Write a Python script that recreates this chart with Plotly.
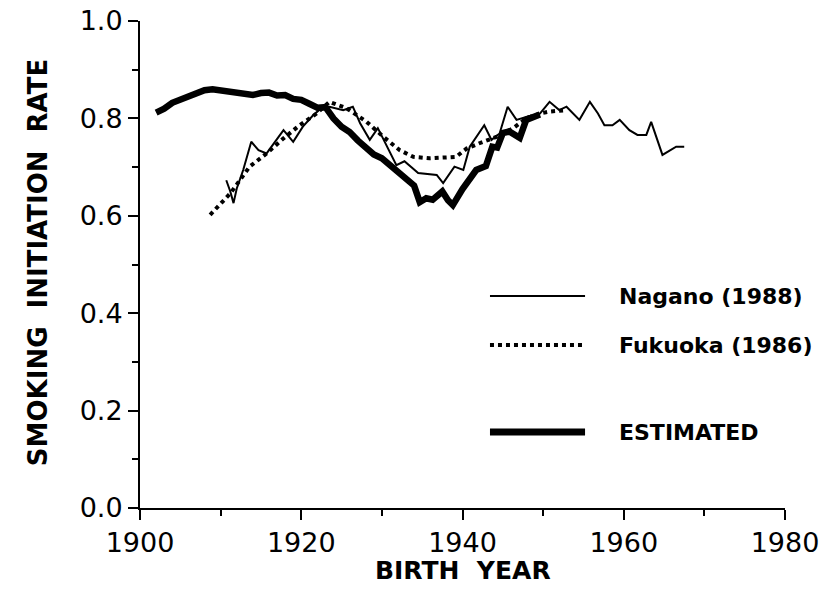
import plotly.graph_objects as go

# ---- data ----
est_year = [1902, 1903, 1904, 1905, 1906, 1907, 1908, 1909, 1910, 1911, 1912, 1913, 1914,
            1915, 1916, 1917, 1918, 1919, 1920, 1921, 1922, 1923, 1924, 1925, 1926, 1927,
            1928, 1929, 1930, 1931, 1932, 1933, 1934, 1934.7, 1935.5, 1936.3, 1937.5, 1938.2,
            1938.8, 1940, 1941, 1941.7, 1942.9, 1943.7, 1944.3, 1945, 1945.8, 1946.5, 1947.1,
            1947.9, 1948.8, 1949.6]
est_rate = [0.812, 0.82, 0.832, 0.838, 0.845, 0.85, 0.858, 0.86, 0.857, 0.855, 0.852, 0.848, 0.848,
            0.852, 0.853, 0.847, 0.848, 0.84, 0.838, 0.83, 0.822, 0.823, 0.80, 0.783, 0.772, 0.755,
            0.742, 0.726, 0.718, 0.703, 0.692, 0.676, 0.662, 0.628, 0.636, 0.633, 0.65, 0.632,
            0.622, 0.655, 0.68, 0.694, 0.702, 0.742, 0.74, 0.77, 0.773, 0.765, 0.76,
            0.797, 0.802, 0.808]

nagano_year = [1910.7, 1911.2, 1911.6, 1912.0, 1912.8, 1913.8, 1914.7, 1915.7, 1917.8, 1919.0,
               1920.2, 1921.5, 1922.5, 1923.5, 1925.2, 1926.4, 1927.3, 1928.5, 1929.5, 1930.6,
               1931.8, 1932.8, 1934.5, 1936.8, 1937.6, 1939.0, 1940.1, 1940.9, 1942.7, 1943.6,
               1944.6, 1945.6, 1946.7, 1948.1, 1949.6, 1950.8, 1952.0, 1952.9, 1954.5, 1955.8,
               1956.8, 1957.6, 1958.6, 1959.5, 1960.7, 1961.7, 1962.8, 1963.4, 1964.8, 1966.5,
               1967.5]
nagano_rate = [0.673, 0.65, 0.626, 0.656, 0.694, 0.752, 0.735, 0.728, 0.776, 0.752,
               0.783, 0.807, 0.821, 0.824, 0.817, 0.824, 0.79, 0.756, 0.78, 0.742,
               0.704, 0.712, 0.688, 0.684, 0.667, 0.701, 0.694, 0.742, 0.786, 0.756,
               0.769, 0.824, 0.797, 0.804, 0.81, 0.834, 0.817, 0.824, 0.797, 0.834,
               0.81, 0.786, 0.786, 0.797, 0.776, 0.766, 0.766, 0.793, 0.725, 0.742,
               0.742]

fukuoka_year = [1908.7, 1911.2, 1913.6, 1915.7, 1917.8, 1919.8, 1921.9, 1923.5, 1925.6, 1928.1,
                1930.2, 1932.2, 1933.9, 1935.9, 1939.2, 1940.5, 1942.1, 1944.2, 1946.3, 1947.9,
                1949.6, 1950.8, 1952.9]
fukuoka_rate = [0.602, 0.646, 0.701, 0.728, 0.759, 0.786, 0.81, 0.834, 0.821, 0.793,
                0.762, 0.735, 0.721, 0.718, 0.721, 0.738, 0.749, 0.762, 0.78, 0.80,
                0.81, 0.814, 0.817]

x_ticks = [1900, 1920, 1940, 1960, 1980]
y_ticks = [0.0, 0.2, 0.4, 0.6, 0.8, 1.0]
legend_names = ["Nagano (1988)", "Fukuoka (1986)", "ESTIMATED"]
x_title = "BIRTH  YEAR"
y_title = "SMOKING  INITIATION  RATE"

FONT = "DejaVu Sans, sans-serif"

fig = go.Figure()
fig.add_trace(go.Scatter(x=nagano_year, y=nagano_rate, mode="lines",
                         line=dict(color="black", width=2), showlegend=False))
fig.add_trace(go.Scatter(x=fukuoka_year, y=fukuoka_rate, mode="lines",
                         line=dict(color="black", width=4, dash="dot"), showlegend=False))
fig.add_trace(go.Scatter(x=est_year, y=est_rate, mode="lines",
                         line=dict(color="black", width=6.5), showlegend=False))

# manual legend (paper coordinates)
leg_rows = [(0.4353, dict(width=2)), (0.3347, dict(width=4, dash="dot")), (0.156, dict(width=7))]
for (yp, ls), name in zip(leg_rows, legend_names):
    fig.add_shape(type="line", xref="paper", yref="paper", x0=0.5426, x1=0.690, y0=yp, y1=yp,
                  line=dict(color="black", **ls))
    fig.add_annotation(xref="paper", yref="paper", x=0.7395, y=yp, text=f"<b>{name}</b>",
                       showarrow=False, xanchor="left", yanchor="middle",
                       font=dict(family=FONT, size=22, color="black"))

# axis titles
fig.add_annotation(xref="paper", yref="paper", x=0.5008, y=-0.128, text=f"<b>{x_title}</b>",
                   showarrow=False, xanchor="center", yanchor="middle",
                   font=dict(family=FONT, size=25, color="black"))
fig.add_annotation(xref="paper", yref="paper", x=-0.158, y=0.503, text=f"<b>{y_title}</b>",
                   showarrow=False, xanchor="center", yanchor="middle", textangle=-90,
                   font=dict(family=FONT, size=26, color="black"))

fig.update_layout(
    width=824, height=603,
    margin=dict(l=140, r=39, t=21, b=95),
    paper_bgcolor="white", plot_bgcolor="white",
    font=dict(family=FONT, color="black"),
    xaxis=dict(range=[1900, 1980], tickvals=x_ticks, ticktext=[str(v) for v in x_ticks],
               automargin=False, ticklabeloverflow="allow",
               showgrid=False, zeroline=False, showline=True, linecolor="black", linewidth=2,
               ticks="outside", ticklen=10, tickwidth=2, tickcolor="black",
               minor=dict(dtick=10, ticks="outside", ticklen=6, tickwidth=2, tickcolor="black"),
               tickfont=dict(size=27)),
    yaxis=dict(range=[0, 1], tickvals=y_ticks, ticktext=[f"{v:.1f}" for v in y_ticks],
               automargin=False, ticklabeloverflow="allow",
               showgrid=False, zeroline=False, showline=True, linecolor="black", linewidth=2,
               ticks="outside", ticklen=10, tickwidth=2, tickcolor="black",
               minor=dict(dtick=0.1, ticks="outside", ticklen=6, tickwidth=2, tickcolor="black"),
               tickfont=dict(size=27)),
)

# remove the page's default body margin so the 824x603 figure fills the window exactly
fig.write_html("out.html", config={"displayModeBar": False},
               post_script="document.body.style.margin='0px';document.body.style.overflow='hidden';")
